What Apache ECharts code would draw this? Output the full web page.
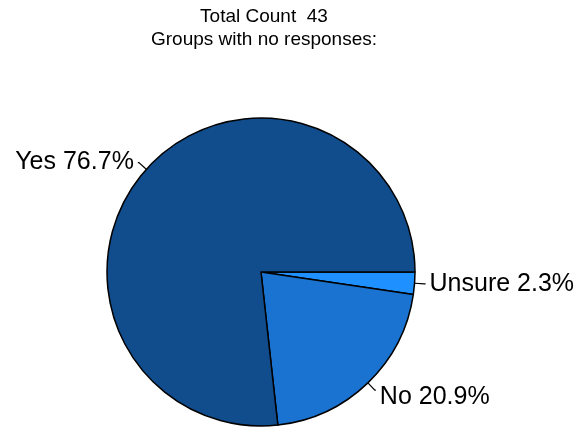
<!DOCTYPE html>
<html>
<head>
<meta charset="utf-8">
<script src="https://cdn.jsdelivr.net/npm/echarts@6/dist/echarts.min.js"></script>
<style>html,body{margin:0;padding:0;background:#fff}#c{width:580px;height:429px}</style>
</head>
<body>
<div id="c"></div>
<script>
const categories = ["Unsure", "No", "Yes"];
const counts = [1, 9, 33];
const percents = ["2.3%", "20.9%", "76.7%"];
const colors = ["#1e90ff", "#1a73d0", "#114c8c"];
const titleLines = ["Total Count  43", "Groups with no responses:"];

const chart = echarts.init(document.getElementById('c'), null, {renderer: 'canvas'});
chart.setOption({
  backgroundColor: '#ffffff',
  animation: false,
  title: {
    text: titleLines.join('\n'),
    left: 259, top: 0, textAlign: 'center',
    textStyle: {fontFamily: 'Liberation Sans, Arial', fontSize: 19, fontWeight: 'normal', color: '#000', lineHeight: 23}
  },
  series: [{
    type: 'pie',
    center: [261, 272],
    radius: 154,
    startAngle: 0,
    clockwise: true,
    avoidLabelOverlap: false,
    itemStyle: {borderColor: '#000', borderWidth: 1.5},
    label: {
      show: true, position: 'outside',
      fontFamily: 'Liberation Sans, Arial', fontSize: 25, color: '#000',
      formatter: p => categories[p.dataIndex] + ' ' + percents[p.dataIndex],
      distanceToLabelLine: 4
    },
    labelLine: {show: true, length: 10, length2: 1, lineStyle: {color: '#000', width: 1.2}},
    labelLayout: p => (p.dataIndex === 1 ? {dy: 7} : {}),
    emphasis: {disabled: true},
    data: categories.map((c, i) => ({
      name: c, value: counts[i], itemStyle: {color: colors[i]}
    }))
  }]
});
</script>
</body>
</html>
